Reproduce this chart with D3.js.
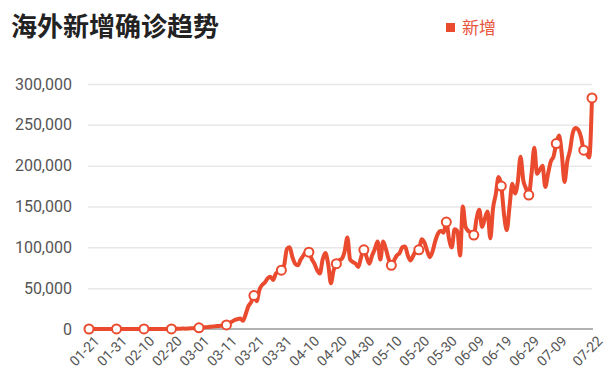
<!DOCTYPE html>
<html><head><meta charset="utf-8">
<script src="https://cdn.jsdelivr.net/npm/d3@7"></script>
<style>body{margin:0;background:#fff;}svg{display:block;}</style>
</head><body>
<svg id="c" width="614" height="386"></svg>
<script>
const title = "海外新增确诊趋势";
const seriesName = "新增";
const startDate = "2020-01-21";
const tickLabels = ["01-21","01-31","02-10","02-20","03-01","03-11","03-21","03-31","04-10","04-20","04-30","05-10","05-20","05-30","06-09","06-19","06-29","07-09","07-22"];
const tickIndex = [0,10,20,30,40,50,60,70,80,90,100,110,120,130,140,150,160,170,183];
const markerIndex = [0,10,20,30,40,50,60,70,80,90,100,110,120,130,140,150,160,170,180,183];
const yTicks = [0,50000,100000,150000,200000,250000,300000];
const values = [
0,0,1,1,4,3,5,2,10,15,
20,25,20,30,25,20,20,15,25,30,
20,15,25,30,40,50,60,70,80,110,
150,250,350,400,500,450,550,800,1000,1300,
1500,1800,2000,2300,2800,3000,3500,3600,4000,4500,
5000,7000,9000,11000,12000,13000,10000,18000,28000,33000,
41000,34000,48000,54000,57000,62000,64000,60000,68000,70000,
72000,78000,98000,100000,88000,80000,78000,85000,90000,95000,
94000,86000,80000,72000,68000,85000,93000,80000,56000,72000,
80000,84000,86000,95000,112000,85000,82000,80000,76000,88000,
97000,88000,80000,90000,98000,107000,85000,107000,98000,86000,
78000,84000,90000,93000,100000,101000,90000,84000,90000,96000,
97000,110000,106000,96000,88000,95000,108000,117000,120000,118000,
131000,110000,100000,122000,120000,90000,150000,125000,120000,118000,
115000,135000,146000,125000,135000,144000,111000,148000,165000,186000,
175000,140000,121000,150000,178000,166000,180000,211000,182000,172000,
164000,190000,222000,190000,195000,200000,174000,190000,205000,211000,
227000,237000,215000,180000,205000,219000,240000,246000,244000,235000,
219000,215000,210000,283000
];

const red = "#ea4a2e";
const svg = d3.select("#c");
const x = d3.scaleLinear().domain([0, values.length - 1]).range([89, 592]);
const y = d3.scaleLinear().domain([0, 300000]).range([329, 84]);

// title
svg.append("text").attr("x", 11).attr("y", 36)
  .attr("font-family", "'Noto Sans CJK SC', sans-serif").attr("font-weight", "bold")
  .attr("font-size", 26).attr("fill", "#222").text(title);

// legend
svg.append("rect").attr("x", 446).attr("y", 23).attr("width", 9).attr("height", 9).attr("fill", red);
svg.append("text").attr("x", 462).attr("y", 34)
  .attr("font-family", "'Noto Sans CJK SC', sans-serif").attr("font-size", 17)
  .attr("fill", "#e8553e").text(seriesName);

// grid
const yAxis = d3.axisLeft(y).tickValues(yTicks).tickSize(-(592 - 88)).tickPadding(16)
  .tickFormat(d3.format(","));
const gy = svg.append("g").attr("transform", "translate(88,0)").call(yAxis);
gy.select(".domain").remove();
gy.selectAll(".tick line").attr("stroke", "#e8e8e8").attr("stroke-width", 1.5);
gy.selectAll(".tick text").attr("font-family", "Roboto, sans-serif").attr("font-size", 16)
  .attr("fill", "#555");
gy.selectAll(".tick").filter(d => d === 0).select("line").remove();

// x axis
const xAxis = d3.axisBottom(x).tickValues(tickIndex).tickSize(0)
  .tickFormat((d, i) => tickLabels[i]);
const gx = svg.append("g").attr("transform", "translate(0,329)").call(xAxis);
gx.select(".domain").attr("stroke", "#999").attr("stroke-width", 1.5)
  .attr("d", "M88,0H593");
gx.selectAll(".tick text").attr("font-family", "Roboto, sans-serif").attr("font-size", 14)
  .attr("fill", "#555").attr("text-anchor", "end")
  .attr("transform", "translate(4,6) rotate(-45)").attr("dy", "0.7em").attr("y", 0);

// line
const line = d3.line().x((d, i) => x(i)).y(d => y(d)).curve(d3.curveMonotoneX);
svg.append("path").datum(values).attr("d", line).attr("fill", "none")
  .attr("stroke", red).attr("stroke-width", 4).attr("stroke-linejoin", "round");

// markers
svg.selectAll("circle.m").data(markerIndex).enter().append("circle").attr("class", "m")
  .attr("cx", d => x(d)).attr("cy", d => y(values[d])).attr("r", 4.5)
  .attr("fill", "#fff").attr("stroke", red).attr("stroke-width", 2);
</script>
</body></html>
